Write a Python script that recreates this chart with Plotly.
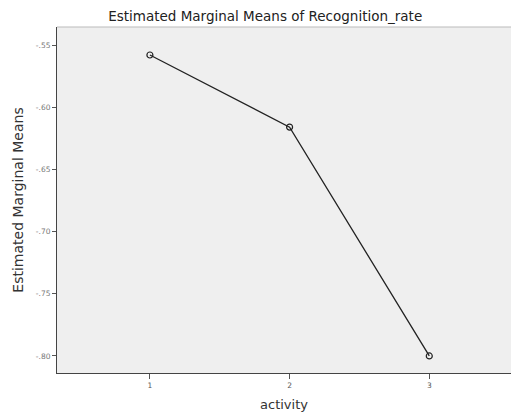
import plotly.graph_objects as go

activity = [1, 2, 3]
means = [-0.558, -0.616, -0.800]
y_tick_vals = [-0.55, -0.60, -0.65, -0.70, -0.75, -0.80]
y_tick_text = ["-.55", "-.60", "-.65", "-.70", "-.75", "-.80"]
x_tick_vals = [1, 2, 3]
x_tick_text = ["1", "2", "3"]

fig = go.Figure()
fig.add_trace(go.Scatter(
    x=activity, y=means, mode="lines+markers",
    line=dict(color="#222222", width=1.3),
    marker=dict(symbol="circle-open", size=6, color="#222222", line=dict(width=1.2)),
    showlegend=False,
))

fig.update_layout(
    width=512, height=412,
    margin=dict(l=57, r=1, t=27, b=39),
    paper_bgcolor="white",
    plot_bgcolor="#efefef",
    font=dict(family="DejaVu Sans, Verdana, sans-serif", color="#333333"),
    title=dict(text="Estimated Marginal Means of Recognition_rate", x=0.518, xanchor="center",
               y=1 - 16 / 412, yanchor="middle", font=dict(size=13.5, color="#222222")),
    xaxis=dict(range=[0.335, 3.585], tickvals=x_tick_vals, ticktext=x_tick_text,
               showgrid=False, zeroline=False, showline=True, linecolor="#444444", linewidth=1,
               ticks="outside", ticklen=5, tickcolor="#555555",
               tickfont=dict(size=7.5, color="#555555"),
               title=dict(text="activity", font=dict(size=13, color="#333333"), standoff=10)),
    yaxis=dict(range=[-0.8137, -0.5355], tickvals=y_tick_vals, ticktext=y_tick_text,
               showgrid=False, zeroline=False, showline=True, linecolor="#444444", linewidth=1,
               ticks="outside", ticklen=4, tickcolor="#555555",
               tickfont=dict(size=7.5, color="#777777"),
               title=dict(text="Estimated Marginal Means", font=dict(size=14, color="#333333"), standoff=8)),
)
fig.add_shape(type="line", xref="paper", yref="paper", x0=0, x1=1, y0=1, y1=1,
              line=dict(color="#bbbbbb", width=1))

fig.write_html(
    "out.html",
    config={"displayModeBar": False},
    post_script="document.body.style.margin='0';document.body.style.overflow='hidden';",
)
